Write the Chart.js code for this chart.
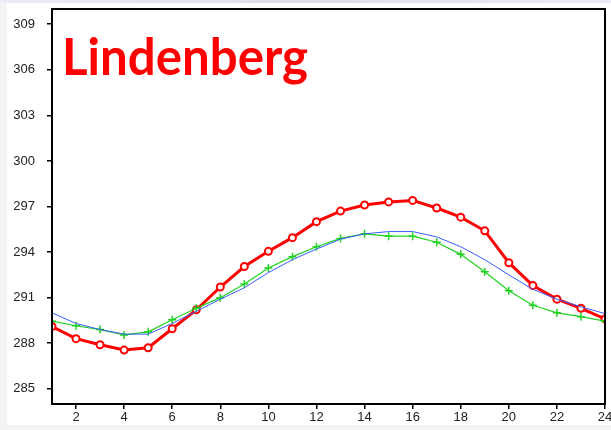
<!DOCTYPE html>
<html>
<head>
<meta charset="utf-8">
<script src="https://cdn.jsdelivr.net/npm/chart.js@4.4.1/dist/chart.umd.min.js"></script>
<style>
  html, body { margin: 0; padding: 0; background: #f3f3f5; overflow: hidden; }
  #topStrip { position: absolute; left: 0; top: 0; width: 611px; height: 3px; background: linear-gradient(to right, #ececf4, #dcdcec, #ececf4); }
  #wrap { position: absolute; left: 7px; top: 3px; width: 604px; height: 422px; background: #fff; }
</style>
</head>
<body>
<div id="topStrip"></div>
<div id="wrap"><canvas id="chart" width="604" height="422"></canvas></div>
<script>
// Data
const hours = [1, 2, 3, 4, 5, 6, 7, 8, 9, 10, 11, 12, 13, 14, 15, 16, 17, 18, 19, 20, 21, 22, 23, 24];
const observed = [289.1, 288.3, 287.9, 287.55, 287.7, 288.95, 290.2, 291.7, 293.05, 294.05, 294.95, 296.0, 296.7, 297.1, 297.3, 297.4, 296.9, 296.3, 295.4, 293.3, 291.8, 290.9, 290.3, 289.6];
const modelA = [289.45, 289.15, 288.9, 288.55, 288.75, 289.55, 290.3, 291.0, 291.9, 292.95, 293.7, 294.35, 294.9, 295.2, 295.05, 295.05, 294.65, 293.85, 292.7, 291.45, 290.5, 290.0, 289.75, 289.45];
const modelB = [290.0, 289.3, 288.9, 288.6, 288.6, 289.3, 290.1, 290.9, 291.65, 292.65, 293.5, 294.2, 294.85, 295.2, 295.35, 295.35, 295.0, 294.35, 293.5, 292.5, 291.55, 290.9, 290.4, 289.95];
const xTicks = [2, 4, 6, 8, 10, 12, 14, 16, 18, 20, 22, 24];
const yTicks = [285, 288, 291, 294, 297, 300, 303, 306, 309];
const stationName = 'Lindenberg';

const toPoints = vals => vals.map((v, i) => ({ x: hours[i], y: v }));

// Frame + title
const framePlugin = {
    id: 'frame',
    afterDraw(chart) {
        const { ctx, chartArea: a } = chart;
        ctx.save();
        ctx.strokeStyle = '#000';
        ctx.lineWidth = 2;
        ctx.strokeRect(a.left, a.top, a.right - a.left, a.bottom - a.top);
        ctx.fillStyle = '#ff0000';
        ctx.font = 'bold 50px Lato';
        ctx.textBaseline = 'alphabetic';
        const w = ctx.measureText(stationName).width;
        ctx.translate(a.left + 10, a.top + 66);
        ctx.scale(246 / w, 1.05);
        ctx.fillText(stationName, 0, 0);
        ctx.restore();
    }
};

// drop the label overhang padding so the plot box sits where it should
const noPad = s => { s.paddingTop = 0; s.paddingBottom = 0; s.paddingLeft = 0; s.paddingRight = 0; };

const tickFont = { family: 'Liberation Sans', size: 13 };

new Chart(document.getElementById('chart'), {
    type: 'line',
    data: {
        datasets: [
            {
                data: toPoints(modelB),
                borderColor: '#3a5cff',
                borderWidth: 1,
                pointRadius: 0,
                tension: 0
            },
            {
                data: toPoints(modelA),
                borderColor: '#1fd21f',
                borderWidth: 1.2,
                pointStyle: 'cross',
                pointRadius: 4,
                pointBorderWidth: 1.5,
                pointBorderColor: '#1fd21f',
                tension: 0
            },
            {
                data: toPoints(observed),
                borderColor: '#ff0000',
                borderWidth: 3,
                pointStyle: 'circle',
                pointRadius: 3.5,
                pointBorderWidth: 2,
                pointBorderColor: '#ff0000',
                pointBackgroundColor: '#ffffff',
                tension: 0
            }
        ]
    },
    options: {
        responsive: false,
        animation: false,
        layout: { padding: { top: 6, right: 5, left: 0, bottom: 0 } },
        plugins: { legend: { display: false }, tooltip: { enabled: false } },
        scales: {
            x: {
                type: 'linear',
                min: 1,
                max: 24,
                afterBuildTicks: s => { s.ticks = xTicks.map(v => ({ value: v })); },
                afterFit: s => { s.height = 21; noPad(s); },
                grid: { drawOnChartArea: false, drawTicks: true, tickLength: 5, color: '#000', lineWidth: 1.5 },
                border: { display: true, color: '#000', width: 2 },
                ticks: { font: tickFont, color: '#222', padding: 1, maxRotation: 0, autoSkip: false }
            },
            y: {
                type: 'linear',
                min: 284,
                max: 310,
                afterBuildTicks: s => { s.ticks = yTicks.map(v => ({ value: v })); },
                afterFit: s => { s.width = 45; noPad(s); },
                grid: { drawOnChartArea: false, drawTicks: true, tickLength: 5, color: '#000', lineWidth: 1.5 },
                border: { display: true, color: '#000', width: 2 },
                ticks: { font: tickFont, color: '#222', padding: 12 }
            }
        }
    },
    plugins: [framePlugin]
});
</script>
</body>
</html>
